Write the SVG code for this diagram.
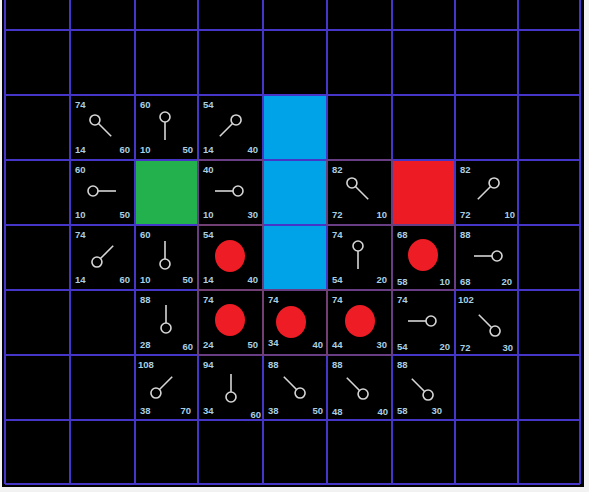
<svg xmlns="http://www.w3.org/2000/svg" xmlns:xlink="http://www.w3.org/1999/xlink" width="589" height="492" viewBox="0 0 589 492">
<style>
.t{font-family:"Liberation Sans",Arial,sans-serif;font-size:9.5px;font-weight:bold;fill:#a9cfe0}
.r{text-anchor:end}
.grid line{stroke:#4536c8;stroke-width:2}
.ptr{fill:none;stroke:#d6d6d6;stroke-width:1.6}
.dot{fill:#ee1c24}
.path{fill:none;stroke:#74406e;stroke-width:1.5}
</style>
<defs>
<g id="p" class="ptr"><circle cx="0" cy="-10" r="5"/><line x1="0" y1="-5" x2="0" y2="13"/></g>
</defs>
<rect x="0" y="0" width="589" height="492" fill="#f2f2f2"/>
<rect x="2" y="0" width="582" height="487" fill="#000"/>
<g id="walls">
<rect x="263" y="95" width="64" height="195" fill="#00a2e8"/>
<rect x="135" y="160" width="63" height="65" fill="#22b14c" stroke="#22b14c" stroke-width="1.5"/>
<rect x="392" y="160" width="63" height="65" fill="#ed1c24" stroke="#ed1c24" stroke-width="1.5"/>
</g>
<g class="grid" id="grid">
<line x1="5" y1="0" x2="5" y2="484"/>
<line x1="70" y1="0" x2="70" y2="484"/>
<line x1="135" y1="0" x2="135" y2="484"/>
<line x1="198" y1="0" x2="198" y2="484"/>
<line x1="263" y1="0" x2="263" y2="484"/>
<line x1="327" y1="0" x2="327" y2="484"/>
<line x1="392" y1="0" x2="392" y2="484"/>
<line x1="455" y1="0" x2="455" y2="484"/>
<line x1="518" y1="0" x2="518" y2="484"/>
<line x1="580" y1="0" x2="580" y2="484"/>
<line x1="5" y1="30" x2="580" y2="30"/>
<line x1="5" y1="95" x2="580" y2="95"/>
<line x1="5" y1="160" x2="580" y2="160"/>
<line x1="5" y1="225" x2="580" y2="225"/>
<line x1="5" y1="290" x2="580" y2="290"/>
<line x1="5" y1="355" x2="580" y2="355"/>
<line x1="5" y1="420" x2="580" y2="420"/>
<line x1="5" y1="484" x2="580" y2="484"/>
</g>
<g id="closed">
<rect class="path" x="198" y="160" width="65" height="65"/>
<rect class="path" x="198" y="225" width="65" height="65"/>
<rect class="path" x="198" y="290" width="65" height="65"/>
<rect class="path" x="263" y="290" width="64" height="65"/>
<rect class="path" x="327" y="290" width="65" height="65"/>
<rect class="path" x="327" y="160" width="65" height="65"/>
<rect class="path" x="392" y="225" width="63" height="65"/>
</g>
<g id="connectors"></g>
<!-- row 2 -->
<g id="c1-2" transform="translate(70,95)"><text class="t" x="5" y="13">74</text><text class="t" x="5" y="58">14</text><text class="t r" x="60" y="58">60</text><use xlink:href="#p" transform="translate(32,32) rotate(315)"/></g>
<g id="c2-2" transform="translate(135,95)"><text class="t" x="5" y="13">60</text><text class="t" x="5" y="58">10</text><text class="t r" x="58" y="58">50</text><use xlink:href="#p" transform="translate(30,32)"/></g>
<g id="c3-2" transform="translate(198,95)"><text class="t" x="5" y="13">54</text><text class="t" x="5" y="58">14</text><text class="t r" x="60" y="58">40</text><use xlink:href="#p" transform="translate(31,32) rotate(45)"/></g>
<!-- row 3 -->
<g id="c1-3" transform="translate(70,160)"><text class="t" x="5" y="13">60</text><text class="t" x="5" y="58">10</text><text class="t r" x="60" y="58">50</text><use xlink:href="#p" transform="translate(33,31) rotate(270)"/></g>
<g id="c3-3" transform="translate(198,160)"><text class="t" x="5" y="13">40</text><text class="t" x="5" y="58">10</text><text class="t r" x="60" y="58">30</text><use xlink:href="#p" transform="translate(30,31) rotate(90)"/></g>
<g id="c5-3" transform="translate(327,160)"><text class="t" x="5" y="13">82</text><text class="t" x="5" y="58">72</text><text class="t r" x="60" y="58">10</text><use xlink:href="#p" transform="translate(32,30) rotate(315)"/></g>
<g id="c7-3" transform="translate(455,160)"><text class="t" x="5" y="13">82</text><text class="t" x="5" y="58">72</text><text class="t r" x="60" y="58">10</text><use xlink:href="#p" transform="translate(32,30) rotate(45)"/></g>
<!-- row 4 -->
<g id="c1-4" transform="translate(70,225)"><text class="t" x="5" y="13">74</text><text class="t" x="5" y="58">14</text><text class="t r" x="60" y="58">60</text><use xlink:href="#p" transform="translate(34,30) rotate(225)"/></g>
<g id="c2-4" transform="translate(135,225)"><text class="t" x="5" y="13">60</text><text class="t" x="5" y="58">10</text><text class="t r" x="58" y="58">50</text><use xlink:href="#p" transform="translate(30,29) rotate(180)"/></g>
<g id="c3-4" transform="translate(198,225)"><text class="t" x="5" y="13">54</text><text class="t" x="5" y="58">14</text><text class="t r" x="60" y="58">40</text><ellipse class="dot" cx="32" cy="31" rx="15" ry="16"/></g>
<g id="c5-4" transform="translate(327,225)"><text class="t" x="5" y="13">74</text><text class="t" x="5" y="58">54</text><text class="t r" x="60" y="58">20</text><use xlink:href="#p" transform="translate(31,31)"/></g>
<g id="c6-4" transform="translate(392,225)"><text class="t" x="5" y="13">68</text><text class="t" x="5" y="60">58</text><text class="t r" x="58" y="60">10</text><ellipse class="dot" cx="31" cy="30" rx="15" ry="16"/></g>
<g id="c7-4" transform="translate(455,225)"><text class="t" x="5" y="13">88</text><text class="t" x="5" y="60">68</text><text class="t r" x="57" y="60">20</text><use xlink:href="#p" transform="translate(32,31) rotate(90)"/></g>
<!-- row 5 -->
<g id="c2-5" transform="translate(135,290)"><text class="t" x="5" y="13">88</text><text class="t" x="5" y="58">28</text><text class="t r" x="58" y="60">60</text><use xlink:href="#p" transform="translate(31,28) rotate(180)"/></g>
<g id="c3-5" transform="translate(198,290)"><text class="t" x="5" y="13">74</text><text class="t" x="5" y="58">24</text><text class="t r" x="60" y="58">50</text><ellipse class="dot" cx="32" cy="30" rx="15" ry="16"/></g>
<g id="c4-5" transform="translate(263,290)"><text class="t" x="5" y="13">74</text><text class="t" x="5" y="56">34</text><text class="t r" x="60" y="58">40</text><ellipse class="dot" cx="28" cy="32" rx="15" ry="16"/></g>
<g id="c5-5" transform="translate(327,290)"><text class="t" x="5" y="13">74</text><text class="t" x="5" y="58">44</text><text class="t r" x="60" y="58">30</text><ellipse class="dot" cx="33" cy="31" rx="15" ry="16"/></g>
<g id="c6-5" transform="translate(392,290)"><text class="t" x="5" y="13">74</text><text class="t" x="5" y="60">54</text><text class="t r" x="58" y="60">20</text><use xlink:href="#p" transform="translate(29,31) rotate(90)"/></g>
<g id="c7-5" transform="translate(455,290)"><text class="t" x="3" y="13">102</text><text class="t" x="5" y="61">72</text><text class="t r" x="58" y="61">30</text><use xlink:href="#p" transform="translate(33,34) rotate(135)"/></g>
<!-- row 6 -->
<g id="c2-6" transform="translate(135,355)"><text class="t" x="3" y="13">108</text><text class="t" x="5" y="59">38</text><text class="t r" x="56" y="59">70</text><use xlink:href="#p" transform="translate(28,31) rotate(225)"/></g>
<g id="c3-6" transform="translate(198,355)"><text class="t" x="5" y="13">94</text><text class="t" x="5" y="59">34</text><text class="t r" x="63" y="63">60</text><use xlink:href="#p" transform="translate(33,32) rotate(180)"/></g>
<g id="c4-6" transform="translate(263,355)"><text class="t" x="5" y="13">88</text><text class="t" x="5" y="59">38</text><text class="t r" x="60" y="59">50</text><use xlink:href="#p" transform="translate(30,31) rotate(135)"/></g>
<g id="c5-6" transform="translate(327,355)"><text class="t" x="5" y="13">88</text><text class="t" x="5" y="60">48</text><text class="t r" x="61" y="60">40</text><use xlink:href="#p" transform="translate(29,32) rotate(135)"/></g>
<g id="c6-6" transform="translate(392,355)"><text class="t" x="5" y="13">88</text><text class="t" x="5" y="59">58</text><text class="t r" x="50" y="59">30</text><use xlink:href="#p" transform="translate(29,33) rotate(135)"/></g>
</svg>
